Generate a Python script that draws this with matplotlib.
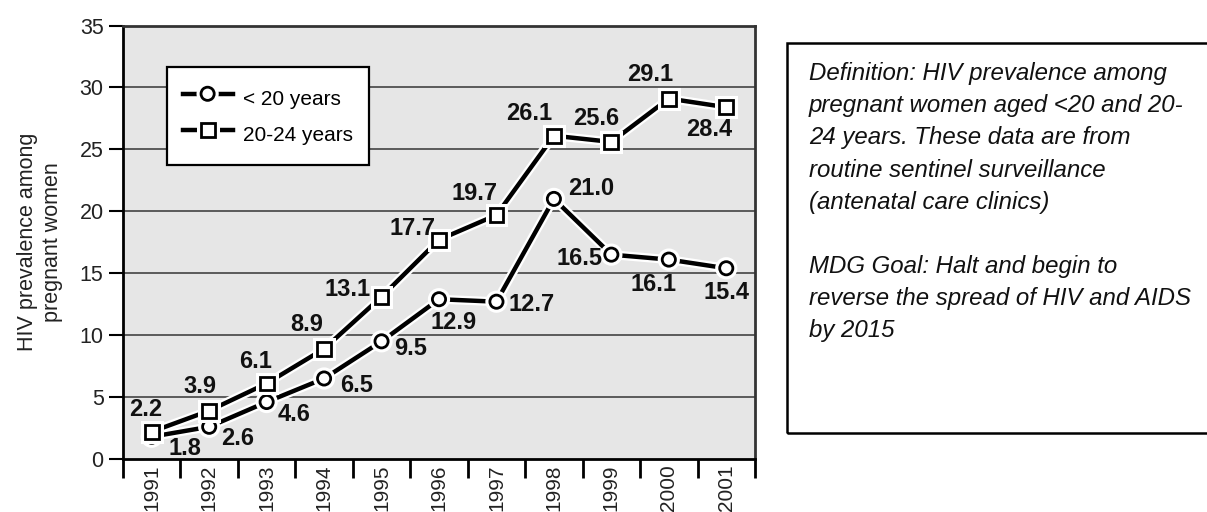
import matplotlib
matplotlib.use("Agg")
import matplotlib.pyplot as plt
import matplotlib.patheffects as pe
from matplotlib import font_manager
from matplotlib.patches import Rectangle
import numpy as np

years = ["1991", "1992", "1993", "1994", "1995", "1996", "1997", "1998", "1999", "2000", "2001"]
under20 = [1.8, 2.6, 4.6, 6.5, 9.5, 12.9, 12.7, 21.0, 16.5, 16.1, 15.4]
age20_24 = [2.2, 3.9, 6.1, 8.9, 13.1, 17.7, 19.7, 26.1, 25.6, 29.1, 28.4]
series_names = ["< 20 years", "20-24 years"]
yticks = [0, 5, 10, 15, 20, 25, 30, 35]

# label offsets in pixels (dx, dy) -- dy positive = up
off_u20 = [(33, -12), (28, -12), (27, -12), (32, -7), (29, -7), (15, -23), (35, -3),
           (37, 10), (-32, -4), (-15, -25), (0, -24)]
off_2024 = [(-6, 22), (-9, 24), (-11, 22), (-17, 24), (-34, 7), (-26, 11), (-22, 22),
            (-25, 22), (-15, 23), (-19, 24), (-17, -22)]

names = {f.name for f in font_manager.fontManager.ttflist}
base = "Liberation Sans" if "Liberation Sans" in names else "DejaVu Sans"
plt.rcParams["font.family"] = base

fig = plt.figure(figsize=(12.07, 5.12), dpi=100)
ax = fig.add_axes([123 / 1207, 1 - 459 / 512, (755 - 123) / 1207, (459 - 25.5) / 512])
ax.set_facecolor("#e6e6e6")

x = np.arange(len(years)) + 0.5
halo = [pe.Stroke(linewidth=6.5, foreground="white"), pe.Normal()]
l1, = ax.plot(x, under20, color="black", lw=3.2, marker="o", ms=9.5, mfc="white",
              mec="black", mew=2, label=series_names[0], path_effects=halo, zorder=4)
l2, = ax.plot(x, age20_24, color="black", lw=3.2, marker="s", ms=10, mfc="white",
              mec="black", mew=2, label=series_names[1], path_effects=halo, zorder=4)

lab_size = 17
for xi, v, o in zip(x, under20, off_u20):
    ax.annotate(f"{v:.1f}", (xi, v), xytext=o, textcoords="offset pixels",
                ha="center", va="center", fontsize=lab_size, fontweight="bold",
                color="#111", zorder=5)
for xi, v, o in zip(x, age20_24, off_2024):
    ax.annotate(f"{v:.1f}", (xi, v), xytext=o, textcoords="offset pixels",
                ha="center", va="center", fontsize=lab_size, fontweight="bold",
                color="#111", zorder=5)

ax.set_xlim(0, len(years))
ax.set_ylim(0, 35)
ax.set_yticks(yticks)
ax.set_yticklabels([str(t) for t in yticks], fontsize=15.5, color="#222")
ax.tick_params(axis="y", length=10, width=1.5, pad=4, color="black")
for t in yticks[1:-1]:
    ax.axhline(t, color="#505050", lw=1.3, zorder=1)

ax.set_xticks(np.arange(len(years) + 1))
ax.set_xticklabels([])
ax.tick_params(axis="x", which="major", length=14, width=2, color="black")
ax.set_xticks(x, minor=True)
ax.set_xticklabels(years, minor=True, rotation=90, fontsize=15, color="#222", va="top")
ax.tick_params(axis="x", which="minor", length=0, pad=4)

for s in ["left", "bottom"]:
    ax.spines[s].set_linewidth(2)
    ax.spines[s].set_color("black")
for s in ["top", "right"]:
    ax.spines[s].set_linewidth(2)
    ax.spines[s].set_color("#333333")

ax.set_ylabel("HIV prevalence among\npregnant women", fontsize=15.5, color="#222",
              linespacing=1.25, labelpad=12)

leg = ax.legend(handles=[l1, l2], loc="upper left", bbox_to_anchor=(0.0696, 0.904),
                fontsize=15, frameon=True, fancybox=False, handlelength=2.4,
                handleheight=1.9, borderpad=0.75, labelspacing=0.25,
                handletextpad=0.5, borderaxespad=0)
leg.get_frame().set_edgecolor("black")
leg.get_frame().set_linewidth(1.6)
leg.get_frame().set_alpha(1)

fig.patches.append(Rectangle((787 / 1207, 1 - 433 / 512), 0.4, (433 - 42.6) / 512,
                             transform=fig.transFigure, fill=False, ec="black", lw=1.8))
info = ("Definition: HIV prevalence among\n"
        "pregnant women aged <20 and 20-\n"
        "24 years. These data are from\n"
        "routine sentinel surveillance\n"
        "(antenatal care clinics)\n"
        "\n"
        "MDG Goal: Halt and begin to\n"
        "reverse the spread of HIV and AIDS\n"
        "by 2015")
fig.text(809 / 1207, 1 - 62 / 512, info, fontsize=17.3, style="italic", va="top",
         ha="left", linespacing=1.51, color="#111")

fig.savefig("out.png", dpi=100)
